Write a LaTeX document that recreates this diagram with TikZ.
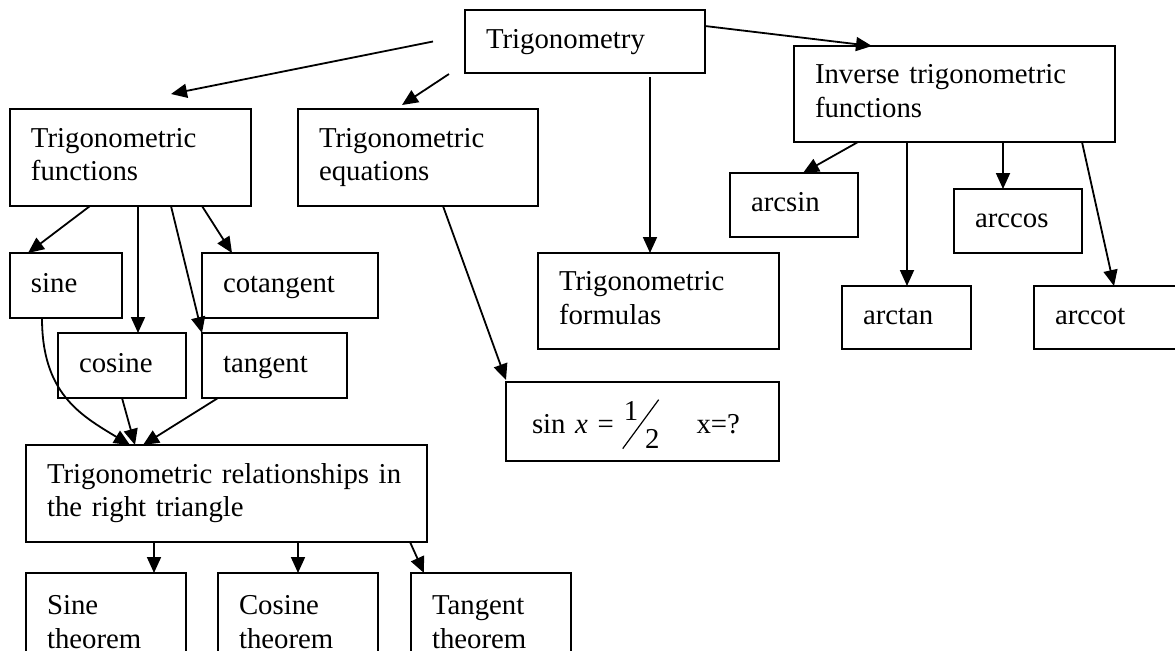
\documentclass[tikz,border=0pt]{standalone}
\usepackage{fontspec}
\setmainfont{Liberation Serif}
\usepackage{graphicx}
\usetikzlibrary{arrows.meta}

\begin{document}
\begin{tikzpicture}[x=0.5pt, y=-0.5pt,
    box/.style={draw, line width=0.9pt, anchor=north west, align=left,
        inner xsep=10.5pt, inner ysep=0pt, outer sep=0pt,
        font=\fontsize{14.4}{16.75}\selectfont},
    arr/.style={-{Triangle[length=8pt,width=7pt]}, line width=0.9pt}]
    \useasboundingbox (0,0) rectangle (1175,650);
    \clip (0,0) rectangle (1175,650);

    \node[box, text width=99pt, minimum height=31.5pt] (trig) at (465,10) {\strut Trigonometry};
    \node[box, text width=139.5pt, minimum height=48pt] (inv) at (794,46) {\strut Inverse trigonometric\\\strut functions};
    \node[box, text width=99.5pt, minimum height=48.5pt] (func) at (10,109) {\strut Trigonometric\\\strut functions};
    \node[box, text width=99pt, minimum height=48.5pt] (equ) at (298,109) {\strut Trigonometric\\\strut equations};
    \node[box, text width=35pt, minimum height=32.5pt] (sine) at (10,253) {\strut sine};
    \node[box, text width=67pt, minimum height=32.5pt] (cot) at (202,253) {\strut cotangent};
    \node[box, text width=43pt, minimum height=32.5pt] (cos) at (58,333) {\strut cosine};
    \node[box, text width=51.5pt, minimum height=32.5pt] (tan) at (202,333) {\strut tangent};
    \node[box, text width=99.5pt, minimum height=48pt] (form) at (538,253) {\strut Trigonometric\\\strut formulas};
    \node[box, text width=115.5pt, minimum height=39.5pt] (sinx) at (506,382)
        {\hspace{2.5pt}\rule[-8pt]{0pt}{27.5pt}sin \textit{x} =\hspace{5pt}\raisebox{6.5pt}{1}\hspace{-8pt}\raisebox{-8pt}{\rotatebox{53.7}{\rule{30.4pt}{0.6pt}}}\hspace{-7pt}\raisebox{-7.5pt}{2}\hspace{18.5pt}x=?};
    \node[box, text width=43pt, minimum height=32pt] (arcsin) at (730,173) {\strut arcsin};
    \node[box, text width=43pt, minimum height=32pt] (arccos) at (954,189) {\strut arccos};
    \node[box, text width=43.5pt, minimum height=31.5pt] (arctan) at (842,286) {\strut arctan};
    \node[box, text width=59pt, minimum height=31.5pt] (arccot) at (1034,286) {\strut arccot};
    \node[box, text width=179.5pt, minimum height=48.5pt] (rel) at (26,445) {\strut Trigonometric relationships in\\\strut the right triangle};
    \node[box, text width=59pt, minimum height=52pt] (sthm) at (26,573) {\strut Sine\\\strut theorem};
    \node[box, text width=59pt, minimum height=52pt] (cthm) at (218,573) {\strut Cosine\\\strut theorem};
    \node[box, text width=59pt, minimum height=52pt] (tthm) at (411,573) {\strut Tangent\\\strut theorem};

    \draw[arr] ([xshift=-16pt]trig.west) -- ([xshift=20.25pt,yshift=7.5pt]func.north);
    \draw[arr] ([xshift=-8pt,yshift=-0.5pt]trig.south west) -- ([xshift=-8pt,yshift=2pt]equ.north);
    \draw[arr] ([xshift=32.5pt,yshift=-2pt]trig.south) -- ([xshift=32.5pt]trig.south |- form.north);
    \draw[arr] ([yshift=-8pt]trig.north east) -- ([xshift=39pt]inv.north west);

    \draw[arr] ([xshift=40pt]func.south west) -- ([xshift=9pt]sine.north west);
    \draw[arr] ([xshift=64pt]func.south west) -- ([xshift=64pt]func.south west |- cos.north);
    \draw[arr] ([xshift=80.5pt]func.south west) -- (tan.north west);
    \draw[arr] ([xshift=96pt]func.south west) -- ([xshift=15pt]cot.north west);
    \draw[arr] ([xshift=72.5pt]equ.south west) -- ([yshift=1pt]sinx.north west);

    \draw[arr] ([xshift=16pt]sine.south west) .. controls +(0,75) and +(-50,-30) .. ([xshift=52pt]rel.north west);
    \draw[arr] ([xshift=32pt]cos.south west) -- ([xshift=54.5pt]rel.north west);
    \draw[arr] ([xshift=8pt]tan.south west) -- ([xshift=58.5pt]rel.north west);

    \draw[arr] ([xshift=64pt]rel.south west) -- ([xshift=64pt]rel.south west |- sthm.north);
    \draw[arr] ([xshift=136pt]rel.south west) -- ([xshift=136pt]rel.south west |- cthm.north);
    \draw[arr] ([xshift=-8.5pt]rel.south east) -- ([xshift=6.5pt]tthm.north west);

    \draw[arr] ([xshift=32pt]inv.south west) -- ([xshift=36.5pt]arcsin.north west);
    \draw[arr] ([xshift=56.5pt]inv.south west) -- ([xshift=56.5pt]inv.south west |- arctan.north);
    \draw[arr] ([xshift=104.5pt]inv.south west) -- ([xshift=104.5pt]inv.south west |- arccos.north);
    \draw[arr] ([xshift=144pt]inv.south west) -- ([xshift=40pt]arccot.north west);
\end{tikzpicture}
\end{document}
